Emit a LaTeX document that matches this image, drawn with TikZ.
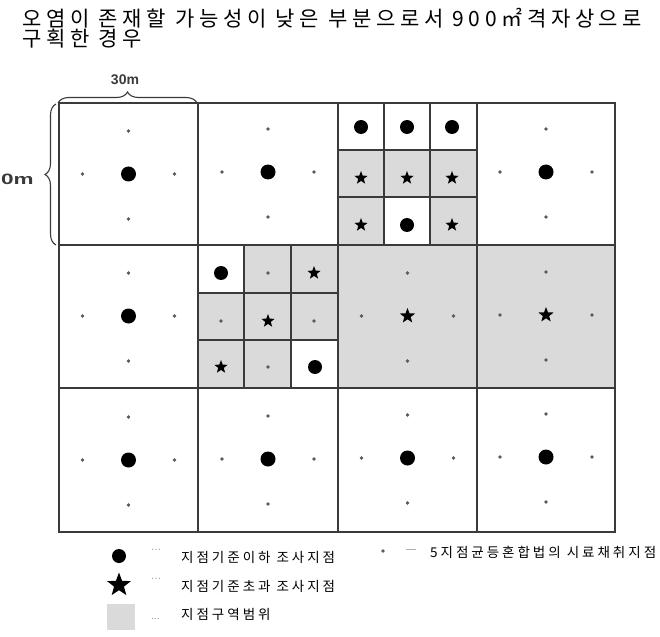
\documentclass[tikz,border=0pt]{standalone}
\usepackage{fontspec}
\setmainfont{Liberation Sans}
\newfontfamily\krtitle{Noto Sans CJK KR}[LetterSpace=22]
\newfontfamily\krsp{Noto Sans CJK KR}[LetterSpace=22]
\usetikzlibrary{shapes.geometric,decorations.pathreplacing}
\definecolor{gridc}{HTML}{3A3A3A}
\definecolor{shadec}{HTML}{DADADA}
\definecolor{dotc}{HTML}{5A5A5A}
\definecolor{lightc}{HTML}{8A8A8A}
\tikzset{
  cellline/.style={draw=gridc, line width=1.8pt},
  subline/.style={draw=gridc, line width=1.6pt},
  bigdot/.style={circle, fill=black, inner sep=0pt, minimum size=15pt},
  subdot/.style={circle, fill=black, inner sep=0pt, minimum size=14pt},
  smalldot/.style={circle, fill=dotc, inner sep=0pt, minimum size=3.6pt},
  starmark/.style={star, star points=5, star point ratio=2.4, fill=black, draw=none, inner sep=0pt, minimum size=16pt},
  bracestyle/.style={draw=gridc, line width=1.1pt, decorate, decoration={brace, amplitude=11pt}},
  titletext/.style={font=\krtitle\fontsize{21}{20}\selectfont, align=left, inner sep=0pt, anchor=north west},
  legendtext/.style={font=\krsp\fontsize{13.5}{13.5}\selectfont, inner sep=0pt, anchor=west},
  dimtext/.style={font=\bfseries\fontsize{14}{14}\selectfont, inner sep=0pt, text=gridc},
  legprefix/.style={font=\fontsize{10}{10}\selectfont, text=lightc, inner sep=0pt, anchor=west},
}
\begin{document}
\begin{tikzpicture}[x=1pt, y=-1pt]
\useasboundingbox (0,0) rectangle (660,636);
% title
\node[titletext] (title) at (22,8) {오염이 존재할 가능성이 낮은 부분으로서 900㎡격자상으로\\구획한 경우};
% shaded areas
\fill[shadec] (338,245) rectangle (615,388);
\fill[shadec] (244,245) rectangle (338,388);
\fill[shadec] (198,293) rectangle (244,388);
\fill[shadec] (338,150) rectangle (477,197);
\fill[shadec] (338,197) rectangle (384,245);
\fill[shadec] (430,197) rectangle (477,245);
\fill[white] (291,340) rectangle (338,388);
% main grid
\draw[cellline] (59,103) rectangle (615,532);
\foreach \x in {198,338,477} \draw[cellline] (\x,103) -- (\x,532);
\foreach \y in {245,388} \draw[cellline] (59,\y) -- (615,\y);
% sub grids
\foreach \x in {384,430} \draw[subline] (\x,103) -- (\x,245);
\foreach \y in {150,197} \draw[subline] (338,\y) -- (477,\y);
\foreach \x in {244,291} \draw[subline] (\x,245) -- (\x,388);
\foreach \y in {293,340} \draw[subline] (198,\y) -- (338,\y);
% standard cells: big dot + 4 small dots
\foreach \cx/\cy [count=\i] in {128.5/174, 268/172, 546/172, 128.5/316, 128.5/460, 268/459, 407.5/458, 546/457}{
  \node[bigdot] (m\i) at (\cx,\cy) {};
  \node[smalldot] (mt\i) at (\cx,\cy-43) {};
  \node[smalldot] (mb\i) at (\cx,\cy+45) {};
  \node[smalldot] (ml\i) at (\cx-46,\cy) {};
  \node[smalldot] (mr\i) at (\cx+46,\cy) {};
}
% shaded star cells
\foreach \cx/\cy [count=\i] in {407.5/316, 546/315}{
  \node[starmark] (s\i) at (\cx,\cy) {};
  \node[smalldot] (st\i) at (\cx,\cy-43) {};
  \node[smalldot] (sb\i) at (\cx,\cy+45) {};
  \node[smalldot] (sl\i) at (\cx-46,\cy) {};
  \node[smalldot] (sr\i) at (\cx+46,\cy) {};
}
% sub grid (col 3, row 1)
\node[subdot] (a11) at (361,127) {};
\node[subdot] (a12) at (407,127) {};
\node[subdot] (a13) at (452,127) {};
\node[starmark, minimum size=14pt] (a21) at (361,178) {};
\node[starmark, minimum size=14pt] (a22) at (407,178) {};
\node[starmark, minimum size=14pt] (a23) at (452,178) {};
\node[starmark, minimum size=14pt] (a31) at (361,225) {};
\node[subdot] (a32) at (407,225) {};
\node[starmark, minimum size=14pt] (a33) at (452,225) {};
% sub grid (col 2, row 2)
\node[subdot] (b11) at (221,273) {};
\node[smalldot] (b12) at (268,273) {};
\node[starmark, minimum size=14pt] (b13) at (314,273) {};
\node[smalldot] (b21) at (221,321) {};
\node[starmark, minimum size=14pt] (b22) at (268,321) {};
\node[smalldot] (b23) at (314,321) {};
\node[starmark, minimum size=14pt] (b31) at (221,367) {};
\node[smalldot] (b32) at (268,367) {};
\node[subdot] (b33) at (315,367) {};
% braces and dimensions
\draw[bracestyle] (58,103) -- (197,103);
\draw[bracestyle] (56,245) -- (56,104);
\node[dimtext] (w30) at (125,80) {30m};
\node[dimtext, anchor=west, font=\bfseries\fontsize{15}{15}\selectfont] (h30) at (1,179) {\scalebox{1.5}[1]{0m}};
% legend
\node[bigdot, minimum size=14pt] (lg1) at (119,556) {};
\node[legprefix] (p1) at (151,551) {···};
\node[legendtext] (t1) at (181,557) {지점기준이하 조사지점};
\node[starmark, minimum size=25pt] (lg2) at (119,585) {};
\node[legprefix] (p2) at (151,580) {···};
\node[legendtext] (t2) at (181,586) {지점기준초과 조사지점};
\node[fill=shadec, minimum width=28pt, minimum height=26pt, inner sep=0pt] (lg3) at (121,617) {};
\node[legprefix] (p3) at (151,619) {...};
\node[legendtext] (t3) at (181,614) {지점구역범위};
\node[smalldot] (lg4) at (383,551) {};
\node[legprefix] (p4) at (406,551) {—};
\node[legendtext] (t4) at (430,552) {5지점균등혼합법의 시료채취지점};
\end{tikzpicture}
\end{document}
